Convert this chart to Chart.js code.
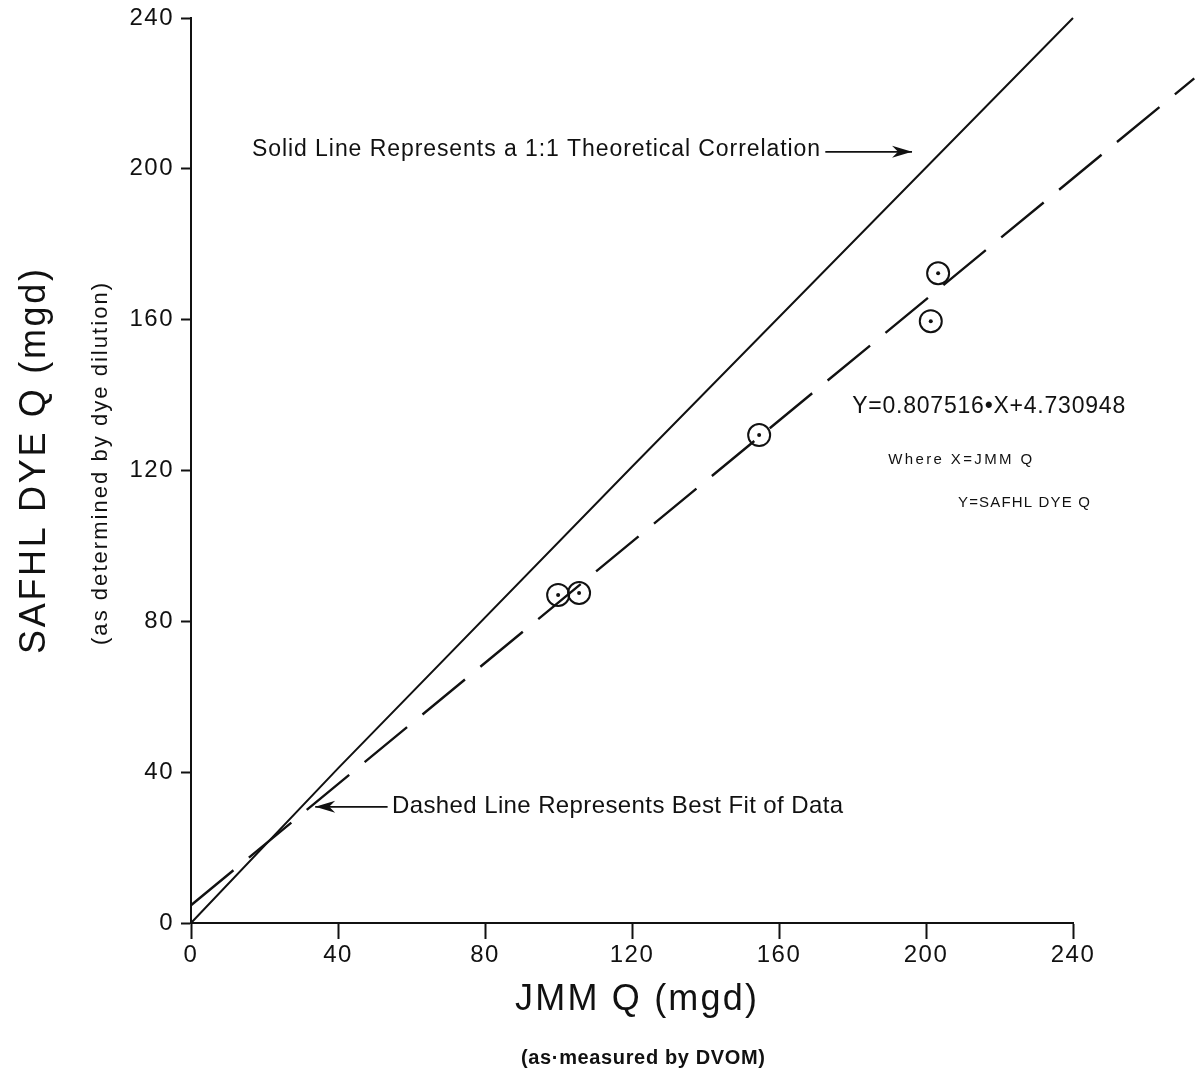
<!DOCTYPE html>
<html>
<head>
<meta charset="utf-8">
<script src="https://cdn.jsdelivr.net/npm/chart.js@4.4.1/dist/chart.umd.min.js"></script>
<style>
  html, body { margin: 0; padding: 0; background: #fff; }
  canvas { display: block; }
</style>
</head>
<body>
<canvas id="c" width="1202" height="1076"></canvas>
<script>
// tick values
const xTicks = [0, 40, 80, 120, 160, 200, 240];
const yTicks = [0, 40, 80, 120, 160, 200, 240];

// measured points (JMM Q vs SAFHL dye Q)
const jmmQ = [99.9, 105.6, 154.6, 201.3, 203.3];
const dyeQ = [87.0, 87.5, 129.4, 159.6, 172.3];

// solid 1:1 line as drawn
const solidX = [0, 40, 120, 240];
const solidY = [0, 41, 121, 240];

// dashed best fit line, ends
const fitX = [0, 273];
const fitY = [4.7, 224];

const INK = '#111';
const FAM = '"Liberation Sans", Arial, Helvetica, sans-serif';

const toXY = (xs, ys) => xs.map((x, i) => ({ x: x, y: ys[i] }));

// text with spacing stretched to a given width
function fitText(ctx, text, left, y, width, font) {
  ctx.font = font;
  ctx.letterSpacing = '0px';
  let w = ctx.measureText(text).width;
  let sp = (width - w) / Math.max(1, text.length - 1);
  ctx.letterSpacing = sp.toFixed(2) + 'px';
  ctx.textAlign = 'left';
  ctx.textBaseline = 'middle';
  ctx.fillText(text, left, y);
  ctx.letterSpacing = '0px';
}

function arrow(ctx, x1, y1, x2, y2) {
  ctx.strokeStyle = INK;
  ctx.fillStyle = INK;
  ctx.lineWidth = 1.6;
  ctx.beginPath();
  ctx.moveTo(x1, y1);
  ctx.lineTo(x2, y2);
  ctx.stroke();
  let dir = Math.sign(x2 - x1);
  ctx.beginPath();
  ctx.moveTo(x2, y2);
  ctx.lineTo(x2 - dir * 20, y2 - 6);
  ctx.lineTo(x2 - dir * 14, y2);
  ctx.lineTo(x2 - dir * 20, y2 + 6);
  ctx.closePath();
  ctx.fill();
}

const notes = {
  id: 'notes',
  beforeDraw(chart) {
    chart.ctx.letterSpacing = '1.5px';
  },
  afterDraw(chart) {
    const ctx = chart.ctx;
    const sx = chart.scales.x, sy = chart.scales.y;
    const px = v => sx.getPixelForValue(v);
    const py = v => sy.getPixelForValue(v);
    ctx.save();
    ctx.fillStyle = INK;

    // solid line note
    fitText(ctx, 'Solid Line Represents a 1:1 Theoretical Correlation', px(16.6), py(205), 568, '23px ' + FAM);
    arrow(ctx, px(172.6), py(204.5), px(196.2), py(204.5));

    // dashed line note
    fitText(ctx, 'Dashed Line Represents Best Fit of Data', px(54.7), py(31.0), 451, '24px ' + FAM);
    arrow(ctx, px(53.5), py(30.8), px(33.8), py(30.8));

    // regression equation
    fitText(ctx, 'Y=0.807516\u2022X+4.730948', px(179.9), py(136.9), 273, '23px ' + FAM);
    fitText(ctx, 'Where X=JMM Q', px(189.7), py(122.8), 144, '15px ' + FAM);
    fitText(ctx, 'Y=SAFHL DYE Q', px(208.7), py(111.4), 132, '15px ' + FAM);

    // x axis titles
    fitText(ctx, 'JMM Q (mgd)', 515, 1000, 242, '36px ' + FAM);
    fitText(ctx, '(as\u00b7measured by DVOM)', 521, 1058, 244, 'bold 20px ' + FAM);

    // y axis titles (rotated)
    ctx.save();
    ctx.translate(35, 462);
    ctx.rotate(-Math.PI / 2);
    fitText(ctx, 'SAFHL DYE Q (mgd)', -192, 0, 385, '36px ' + FAM);
    ctx.restore();
    ctx.save();
    ctx.translate(101, 464);
    ctx.rotate(-Math.PI / 2);
    fitText(ctx, '(as determined by dye dilution)', -181, 0, 362, '22px ' + FAM);
    ctx.restore();

    ctx.restore();
  }
};

const axisCommon = {
  type: 'linear',
  min: 0,
  max: 240,
  border: { display: true, color: INK, width: 2 },
  ticks: { color: INK, font: { size: 24, family: FAM }, maxRotation: 0, autoSkip: false }
};

new Chart(document.getElementById('c').getContext('2d'), {
  type: 'scatter',
  data: {
    datasets: [
      {
        type: 'line',
        data: toXY(solidX, solidY),
        borderColor: INK,
        borderWidth: 2,
        pointRadius: 0,
        tension: 0,
        fill: false,
        clip: false
      },
      {
        type: 'line',
        data: toXY(fitX, fitY),
        borderColor: INK,
        borderWidth: 2.4,
        borderDash: [55, 20],
        pointRadius: 0,
        fill: false,
        clip: false
      },
      {
        data: toXY(jmmQ, dyeQ),
        pointRadius: 11,
        pointBorderWidth: 2,
        pointBorderColor: INK,
        pointBackgroundColor: 'rgba(0,0,0,0)',
        clip: false
      },
      {
        data: toXY(jmmQ, dyeQ),
        pointRadius: 2,
        pointBorderWidth: 0,
        pointBackgroundColor: INK,
        clip: false
      }
    ]
  },
  options: {
    responsive: false,
    animation: false,
    events: [],
    layout: { padding: { left: 0, top: 18, right: 129, bottom: 0 } },
    plugins: { legend: { display: false }, tooltip: { enabled: false } },
    scales: {
      x: Object.assign({}, axisCommon, {
        position: 'bottom',
        afterBuildTicks: s => { s.ticks = xTicks.map(v => ({ value: v })); },
        afterFit: s => { s.height = 153; s.paddingLeft = 0; s.paddingRight = 0; },
        grid: { drawOnChartArea: false, drawTicks: true, tickLength: 16, tickWidth: 2, tickColor: INK },
        ticks: Object.assign({}, axisCommon.ticks, { padding: 2 })
      }),
      y: Object.assign({}, axisCommon, {
        position: 'left',
        afterBuildTicks: s => { s.ticks = yTicks.map(v => ({ value: v })); },
        afterFit: s => { s.width = 191; s.paddingTop = 0; s.paddingBottom = 0; },
        grid: { drawOnChartArea: false, drawTicks: true, tickLength: 10, tickWidth: 2, tickColor: INK },
        ticks: Object.assign({}, axisCommon.ticks, { padding: 7 })
      })
    }
  },
  plugins: [notes]
});
</script>
</body>
</html>
